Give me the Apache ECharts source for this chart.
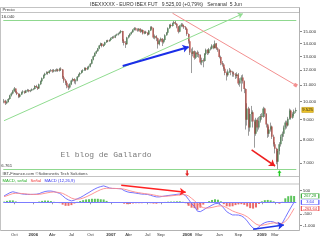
<!DOCTYPE html>
<html><head><meta charset="utf-8">
<script src="https://cdn.jsdelivr.net/npm/echarts@6/dist/echarts.min.js"></script>
<style>html,body{margin:0;padding:0;background:#fff}#c{width:320px;height:240px}</style>
</head><body><div id="c"></div>
<script>
// ---- weekly categories (week start dates) ----
const firstWeek = [2005, 7, 8];
const weekCount = 200;
const weeks = [];
{ const d = new Date(Date.UTC(firstWeek[0], firstWeek[1], firstWeek[2]));
  for (let i = 0; i < weekCount; i++) { weeks.push(d.toISOString().slice(0, 10)); d.setUTCDate(d.getUTCDate() + 7); } }

// ---- weekly prices (IBEX future) ----
const opens = [10000,10050,9900,9980,10150,10350,10480,10620,10780,10560,10450,10280,10420,10560,10600,10530,10640,10700,10610,10660,10740,
10760,10950,10880,10790,11050,11250,11450,11650,11750,11850,11800,11950,12000,11900,12000,11950,12050,11950,12100,12050,11500,11300,11150,10950,10850,11050,11300,11400,11250,11300,11550,11700,11800,11950,12000,12150,12050,12200,12250,12450,12750,13010,13250,13400,13600,13850,14000,13800,13900,14100,14250,14200,
14300,14450,14550,14500,14700,14750,14850,14950,15050,14200,14050,13950,14500,14650,14800,14950,15150,15300,15200,15100,15250,15000,15150,14850,15000,14900,14750,15100,15400,15300,14500,14600,14450,13950,14250,14400,14100,14300,14700,14900,15300,15600,15500,15750,15850,15700,15450,15000,15500,15650,15500,15400,
15250,14800,14200,13300,13200,13400,12900,13300,13150,13100,12550,12700,12650,13200,13500,13250,13550,13600,13850,13650,14000,13600,13500,12950,12500,12400,12100,11800,11650,11900,11950,11850,11750,11700,11600,11700,11100,11300,11500,11250,10750,9000,9600,8600,9300,9400,8900,8300,9000,8600,8950,9200,
9150,9600,9300,8750,8300,8500,8650,8150,7800,7600,7050,7500,7800,8150,8300,8600,8850,8700,9050,9500,9100,9300,9450];
const closes = [10050,9900,9980,10150,10350,10480,10620,10780,10560,10450,10280,10420,10560,10600,10530,10640,10700,10610,10660,10740,10760,
10950,10880,10790,11050,11250,11450,11650,11750,11850,11800,11950,12000,11900,12000,11950,12050,11950,12100,12050,11500,11300,11150,10950,10850,11050,11300,11400,11250,11300,11550,11700,11800,11950,12000,12150,12050,12200,12250,12450,12750,13010,13250,13400,13600,13850,14000,13800,13900,14100,14250,14200,14300,
14450,14550,14500,14700,14750,14850,14950,15050,14200,14050,13950,14500,14650,14800,14950,15150,15300,15200,15100,15250,15000,15150,14850,15000,14900,14750,15100,15400,15300,14500,14600,14450,13950,14250,14400,14100,14300,14700,14900,15300,15600,15500,15750,15850,15700,15450,15000,15500,15650,15500,15400,15250,
14800,14200,13300,13200,13400,12900,13300,13150,13100,12550,12700,12650,13200,13500,13250,13550,13600,13850,13650,14000,13600,13500,12950,12500,12400,12100,11800,11650,11900,11950,11850,11750,11700,11600,11700,11100,11300,11500,11250,10750,9000,9600,8600,9300,9400,8900,8300,9000,8600,8950,9200,9150,
9600,9300,8750,8300,8500,8650,8150,7800,7600,7050,7500,7800,8150,8300,8600,8850,8700,9050,9500,9100,9300,9450,9525];
const highs = [10150,10100,10050,10200,10400,10550,10700,10880,10800,10620,10500,10480,10600,10680,10650,10700,10760,10740,10720,10790,10820,
11000,11020,10920,11100,11300,11500,11700,11820,11920,11900,12000,12080,12060,12080,12060,12120,12100,12160,12200,12080,11600,11400,11250,11050,11120,11350,11480,11450,11380,11600,11750,11860,12000,12060,12200,12200,12260,12320,12500,12800,13060,13300,13460,13650,13900,14080,14050,13980,14150,14300,14320,14350,
14500,14620,14650,14760,14830,14920,15020,15150,15080,14350,14200,14560,14720,14860,15020,15220,15400,15380,15300,15320,15300,15220,15200,15080,15080,14950,15150,15480,15500,15350,14750,14700,14500,14350,14500,14450,14380,14780,14980,15380,15680,15720,15820,15960,16040,15780,15500,15600,15780,15750,15600,15500,
15300,14850,14250,13600,13700,13450,13400,13450,13350,13150,12900,12850,13250,13600,13550,13650,13750,13950,13950,14250,14050,13700,13550,13050,12650,12500,12200,11900,12050,12150,12050,11950,11900,11800,11850,11800,11450,11650,11700,11300,10800,9900,9700,9600,9750,9500,9000,9100,9100,9150,9300,9350,
9700,9650,9350,8800,8650,8850,8700,8250,7900,7650,7600,7900,8250,8400,8700,8950,8950,9150,9600,9550,9400,9550,9650];
const lows = [9900,9800,9850,9950,10100,10300,10420,10580,10500,10380,10200,10230,10380,10500,10460,10500,10580,10550,10560,10620,10680,
10720,10820,10700,10760,11000,11200,11400,11600,11700,11680,11750,11880,11820,11850,11880,11900,11880,11900,11950,11400,11150,11000,10800,10700,10780,11000,11220,11100,11050,11250,11500,11650,11750,11880,11950,11950,12000,12120,12200,12400,12700,12950,13180,13350,13550,13800,13700,13720,13850,14050,14120,14150,
14250,14380,14420,14450,14620,14680,14780,14880,14050,13850,13650,13900,14420,14600,14750,14900,15100,15100,15000,15020,14900,14950,14750,14780,14800,14650,14700,15050,15200,14400,14350,14200,13600,13850,14150,13800,14000,14250,14650,14850,15250,15400,15450,15700,15600,15300,14850,14950,15400,15400,15250,15150,
14650,14000,13100,11800,13000,12750,12800,12950,12900,12400,12350,12200,12600,13100,13100,13150,13450,13550,13550,13600,13500,13350,12850,12350,12250,11950,11650,11300,11550,11800,11650,11550,11550,11400,11450,11000,10900,10600,11100,10500,8500,8700,8200,8400,8900,8600,7650,8200,8400,8500,8850,9000,
9100,9150,8600,8100,8150,8400,8050,7700,7400,6950,6761,7350,7700,7950,8150,8500,8550,8650,9000,9000,9050,9200,9350];
const priceMax = 16040, priceMin = 6761, lastPrice = 9525;
const priceTicks = [7000, 8000, 9000, 10000, 11000, 12000, 13000, 14000, 15000];

// ---- MACD (12,26,9), read every second week ----
const macdLine = [270,340,410,450,420,385,360,345,335,335,340,345,370,420,460,480,480,460,420,380,280,170,100,60,90,150,200,270,350,420,
500,570,630,670,700,660,610,590,590,585,575,500,450,420,410,390,370,350,345,335,300,260,230,230,250,270,290,305,320,340,
355,350,280,120,-60,-180,-380,-400,-330,-250,-190,-120,-60,-50,-110,-250,-400,-480,-540,-540,-545,-580,-660,-800,-970,-1100,-1150,-1050,-940,-870,
-830,-820,-840,-900,-960,-880,-650,-420,-200,4];
const signalLine = [240,280,330,370,385,385,375,365,350,340,335,335,340,360,385,410,430,440,430,415,380,320,250,180,140,130,145,180,230,290,
350,420,480,540,580,600,600,595,590,585,580,560,530,490,460,430,410,390,370,355,340,315,290,265,255,255,265,275,290,300,
315,330,320,270,170,70,-60,-170,-230,-250,-240,-220,-190,-160,-150,-170,-230,-300,-370,-420,-460,-500,-550,-620,-720,-830,-930,-980,-980,-960,
-930,-900,-880,-880,-900,-900,-820,-680,-480,-264];
const macdHist = [30,60,80,80,35,0,-15,-20,-15,-5,5,10,30,60,75,70,50,20,-10,-35,-100,-150,-150,-120,-50,20,55,90,120,130,
150,150,150,130,120,60,10,-5,0,0,-5,-60,-80,-70,-50,-40,-40,-40,-25,-20,-40,-55,-60,-35,-5,15,25,30,30,40,
40,20,-40,-150,-230,-250,-320,-230,-100,0,50,100,130,110,40,-80,-170,-180,-170,-120,-85,-80,-110,-180,-250,-270,-220,-70,40,90,
100,80,40,-20,-60,20,170,260,280,267];
const macdTicks = [500, -500, -1000];
const macdTags = ['267,28', '3,64', '-263,64'];

// ---- x tick labels ----
const xTickLabels = [['2005-09-26','Oct'],['2005-12-26','2006'],['2006-03-27','Abr'],['2006-06-26','Jul'],['2006-09-25','Oct'],
['2007-01-01','2007'],['2007-03-26','Abr'],['2007-06-25','Jul'],['2007-08-27','Sep'],['2007-12-31','2008'],['2008-02-25','Mar'],
['2008-06-02','Jun'],['2008-09-01','Sep'],['2008-12-22','2009'],['2009-02-23','Mar']];

// ---- hand-drawn annotations [week index, value] ----
const greenTrend = [[0, 8948], [163, 16650]];
const blueTrend = [[81, 12293], [126, 13726]];
const redTrend = [[115, 16700], [199, 11001]];
const redArrow = [[169, 7551], [185, 6880]];
const macdRedTrend = [[80, 726], [124, 427]];
const macdBlueTrend = [[170, -1150], [191, -969]];

const FONT = 'Liberation Sans';
const fmtDots = v => String(Math.round(v)).replace(/\B(?=(\d{3})+(?!\d))/g, '.');
const labelMap = {}; xTickLabels.forEach(([d, t]) => { labelMap[d] = t; });
const hasLabel = (i, v) => labelMap[v] !== undefined;

const wickData = weeks.map((d, i) => [opens[i], closes[i], lows[i], highs[i]]);
const bodyData = weeks.map((d, i) => [opens[i], closes[i], Math.min(opens[i], closes[i]), Math.max(opens[i], closes[i])]);
const biw = arr => arr.map((v, j) => [weeks[2 * j], v]);
const seg = (pts, color, width, endSym, endSize) => [
  { coord: [weeks[pts[0][0]], pts[0][1]], symbol: 'none', lineStyle: { color, width, type: 'solid' } },
  { coord: [weeks[pts[1][0]], pts[1][1]], symbol: endSym, symbolSize: endSize }
];
const upArrow = 'path://M2,0 L4,3 L2.7,3 L2.7,7 L1.3,7 L1.3,3 L0,3 Z';

const gLeft = 3.3, gRight = 23.7;
const chart = echarts.init(document.getElementById('c'));
chart.setOption({
  animation: false,
  backgroundColor: '#fff',
  textStyle: { fontFamily: FONT },
  grid: [
    { left: gLeft, right: gRight, top: 12.5, height: 163.5 },
    { left: gLeft, right: gRight, top: 184, height: 46 }
  ],
  xAxis: [
    { type: 'category', gridIndex: 0, data: weeks, axisLine: { show: false }, axisTick: { show: false }, axisLabel: { show: false }, splitLine: { show: false } },
    { type: 'category', gridIndex: 1, data: weeks, axisLine: { show: false },
      axisTick: { show: true, interval: hasLabel, alignWithLabel: true, length: 2, lineStyle: { color: '#999' } },
      axisLabel: { show: true, interval: hasLabel, formatter: v => { const t = labelMap[v]; return /^\d{4}$/.test(t) ? '{y|' + t + '}' : t; },
        fontSize: 4.3, color: '#333', margin: 2.5, rich: { y: { fontSize: 4.3, fontWeight: 'bold', color: '#333' } } },
      splitLine: { show: false } }
  ],
  yAxis: [
    { type: 'log', logBase: 10, gridIndex: 0, position: 'right', offset: 3.7, min: 6491, max: 16768,
      axisLine: { show: false },
      axisTick: { show: true, customValues: priceTicks, length: 2, lineStyle: { color: '#888' } },
      axisLabel: { customValues: priceTicks, formatter: v => fmtDots(v), fontSize: 4.3, color: '#333', margin: 3 },
      splitLine: { show: false } },
    { type: 'value', gridIndex: 1, position: 'right', offset: 3.7, min: -1183, max: 781,
      axisLine: { show: false },
      axisTick: { show: true, customValues: macdTicks, length: 2, lineStyle: { color: '#888' } },
      axisLabel: { customValues: macdTicks, formatter: v => fmtDots(v), fontSize: 4.3, color: '#333', margin: 3 },
      splitLine: { show: false } }
  ],
  series: [
    { type: 'candlestick', name: 'wick', xAxisIndex: 0, yAxisIndex: 0, data: wickData, barWidth: 1,
      itemStyle: { color: '#9c9c9c', color0: '#9c9c9c', borderColor: '#9c9c9c', borderColor0: '#9c9c9c', borderWidth: 1 },
      markLine: { silent: true, animation: false, symbol: ['none', 'none'], label: { show: false },
        data: [
          { yAxis: priceMax, lineStyle: { color: '#8fd88f', width: 1, type: 'solid' },
            label: { show: true, position: 'insideStartTop', formatter: fmtDots(priceMax), fontSize: 4.3, color: '#333', distance: [ -2, 1 ] } },
          { yAxis: priceMin, lineStyle: { color: '#8fd88f', width: 1, type: 'solid' },
            label: { show: true, position: 'insideStartTop', formatter: fmtDots(priceMin), fontSize: 4.3, color: '#333', distance: [ -2, 1 ] } },
          seg(greenTrend, '#90dc90', 1, 'arrow', 5),
          seg(blueTrend, '#1a2ee8', 2, 'arrow', 6),
          seg(redTrend, '#f39090', 1, 'rect', 3.5),
          seg(redArrow, '#ee2020', 1.6, 'arrow', 6)
        ] },
      markPoint: { silent: true, animation: false,
        data: [
          { coord: [weeks[199], lastPrice], symbol: 'rect', symbolSize: [11.5, 5], symbolOffset: [12, 0],
            itemStyle: { color: '#f0c428', borderColor: '#b89000', borderWidth: 0.5 },
            label: { show: true, position: 'inside', formatter: fmtDots(lastPrice), fontSize: 4.2, color: '#222' } },
          { coord: [weeks[188], 6600], symbol: upArrow, symbolSize: [4, 6], itemStyle: { color: '#22cc22' }, label: { show: false } },
          { coord: [weeks[125], 6600], symbol: upArrow, symbolRotate: 180, symbolSize: [4, 6], itemStyle: { color: '#e02020' }, label: { show: false } }
        ] } },
    { type: 'candlestick', name: 'body', xAxisIndex: 0, yAxisIndex: 0, data: bodyData, barWidth: 1.5, z: 3,
      itemStyle: { color: '#2f6f35', color0: '#b02a22', borderColor: '#2f6f35', borderColor0: '#b02a22', borderWidth: 0 } },
    { type: 'bar', name: 'hist', xAxisIndex: 1, yAxisIndex: 1, data: biw(macdHist), barWidth: 2,
      itemStyle: { color: p => p.value[1] >= 0 ? '#5cc45c' : '#ea6a6a' },
      markPoint: { silent: true, animation: false, data: [
        { coord: [weeks[198], 267.28], symbol: 'rect', symbolSize: [17.5, 4.6], symbolOffset: [16, 0],
          itemStyle: { color: '#fff', borderColor: '#33aa33', borderWidth: 0.6 },
          label: { show: true, position: 'inside', formatter: macdTags[0], fontSize: 4, color: '#229922' } } ] } },
    { type: 'line', name: 'MACD', xAxisIndex: 1, yAxisIndex: 1, data: biw(macdLine), showSymbol: false,
      lineStyle: { color: '#6464ff', width: 0.9 },
      markLine: { silent: true, animation: false, symbol: ['none', 'none'], label: { show: false },
        data: [
          { yAxis: 0, lineStyle: { color: '#7c7cff', width: 1, type: 'solid' } },
          seg(macdRedTrend, '#ff2222', 1.6, 'arrow', 6),
          seg(macdBlueTrend, '#2036e6', 1.6, 'arrow', 6)
        ] },
      markPoint: { silent: true, animation: false, data: [
        { coord: [weeks[198], 4], symbol: 'rect', symbolSize: [17.5, 4.6], symbolOffset: [16, 0],
          itemStyle: { color: '#fff', borderColor: '#5555ff', borderWidth: 0.6 },
          label: { show: true, position: 'inside', formatter: macdTags[1], fontSize: 4, color: '#3333ee' } } ] } },
    { type: 'line', name: 'Señal', xAxisIndex: 1, yAxisIndex: 1, data: biw(signalLine), showSymbol: false,
      lineStyle: { color: '#ff8a8a', width: 0.9 },
      markPoint: { silent: true, animation: false, data: [
        { coord: [weeks[198], -263.64], symbol: 'rect', symbolSize: [17.5, 4.6], symbolOffset: [16, 0],
          itemStyle: { color: '#fff', borderColor: '#ee5555', borderWidth: 0.6 },
          label: { show: true, position: 'inside', formatter: macdTags[2], fontSize: 4, color: '#dd3333' } } ] } }
  ],
  graphic: [
    { type: 'text', x: 166, y: 4.5, style: { text: 'IBEXXXXX - EURO IBEX FUT   9.525,00 (+0,79%)   Semanal  5 Jun', font: '5px "Liberation Sans"', fill: '#333', textAlign: 'center', textVerticalAlign: 'middle' } },
    { type: 'rect', shape: { x: 0.5, y: 7.5, width: 299, height: 5 }, style: { fill: '#fff', stroke: '#b4b4b4', lineWidth: 0.8 } },
    { type: 'text', x: 2.5, y: 10, style: { text: 'Precio', font: '4.3px "Liberation Sans"', fill: '#333', textVerticalAlign: 'middle' } },
    { type: 'line', shape: { x1: 0.5, y1: 7.5, x2: 0.5, y2: 230.5 }, style: { stroke: '#b4b4b4', lineWidth: 0.8 } },
    { type: 'line', shape: { x1: 299.5, y1: 7.5, x2: 299.5, y2: 230.5 }, style: { stroke: '#a0a0a0', lineWidth: 0.8 } },
    { type: 'line', shape: { x1: 0.5, y1: 176.5, x2: 299.5, y2: 176.5 }, style: { stroke: '#b4b4b4', lineWidth: 0.8 } },
    { type: 'line', shape: { x1: 0.5, y1: 184, x2: 299.5, y2: 184 }, style: { stroke: '#b4b4b4', lineWidth: 0.8 } },
    { type: 'line', shape: { x1: 0.5, y1: 230.5, x2: 299.5, y2: 230.5 }, style: { stroke: '#a0a0a0', lineWidth: 0.8 } },
    { type: 'text', x: 106, y: 155, style: { text: 'El blog de Gallardo', font: '8px "Liberation Mono"', fill: '#7a7a7a', textAlign: 'center', textVerticalAlign: 'middle' } },
    { type: 'text', x: 2.5, y: 174, style: { text: 'IBT-Finance.com ©Sobesnetis Tech Solutions', font: '4.2px "Liberation Sans"', fill: '#444', textVerticalAlign: 'middle' } },
    { type: 'text', x: 2.5, y: 180.5, style: { rich: { g: { fill: '#22aa22', font: '4.2px "Liberation Sans"' }, r: { fill: '#ee3333', font: '4.2px "Liberation Sans"' }, b: { fill: '#3333ee', font: '4.2px "Liberation Sans"' } },
      text: '{g|MACD, señal} {r|Señal} {b|MACD (12,26,9)}', textVerticalAlign: 'middle' } }
  ]
});
</script></body></html>
